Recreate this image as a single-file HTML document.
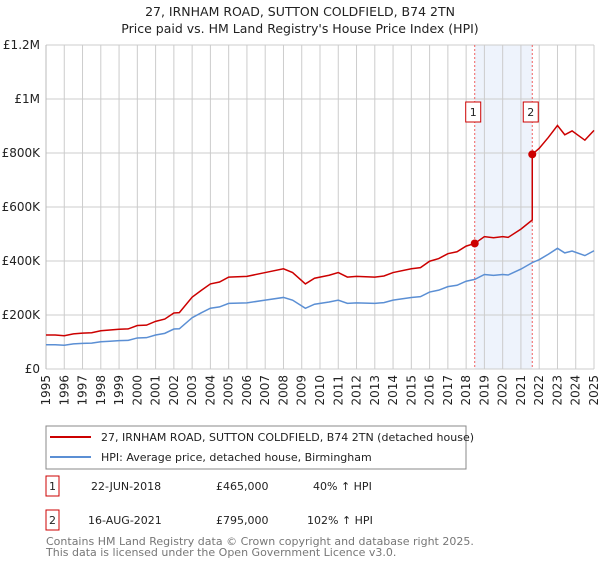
<!DOCTYPE html>
<html><head><meta charset="utf-8"><style>
body{margin:0;background:#fff;font-family:"Liberation Sans","DejaVu Sans",sans-serif;}
svg text{font-family:"DejaVu Sans","Liberation Sans",sans-serif;}
</style></head><body>
<svg id="chart" width="600" height="560" xmlns="http://www.w3.org/2000/svg">
<text x="300" y="16" text-anchor="middle" font-size="12.5" fill="#222">27, IRNHAM ROAD, SUTTON COLDFIELD, B74 2TN</text>
<text x="300" y="33" text-anchor="middle" font-size="12.5" fill="#222">Price paid vs. HM Land Registry's House Price Index (HPI)</text>
<g id="plot"></g>
<g>
<rect x="46" y="426" width="420" height="43" fill="#fff" stroke="#888"/>
<line x1="50" y1="437" x2="91" y2="437" stroke="#cc0000" stroke-width="2"/>
<text x="101" y="441" font-size="11" fill="#222">27, IRNHAM ROAD, SUTTON COLDFIELD, B74 2TN (detached house)</text>
<line x1="50" y1="457" x2="91" y2="457" stroke="#5b8fd4" stroke-width="2"/>
<text x="101" y="461" font-size="11" fill="#222">HPI: Average price, detached house, Birmingham</text>
</g>
<g font-size="11" fill="#222">
<rect x="46" y="476" width="13" height="20" fill="#fff" stroke="#cc0000"/>
<text x="52.5" y="490" text-anchor="middle">1</text>
<text x="91" y="490">22-JUN-2018</text>
<text x="216" y="490">£465,000</text>
<text x="313" y="490">40% ↑ HPI</text>
<rect x="46" y="510" width="13" height="20" fill="#fff" stroke="#cc0000"/>
<text x="52.5" y="524" text-anchor="middle">2</text>
<text x="88" y="524">16-AUG-2021</text>
<text x="216" y="524">£795,000</text>
<text x="307" y="524">102% ↑ HPI</text>
</g>
<text x="46" y="545" font-size="11" fill="#777">Contains HM Land Registry data © Crown copyright and database right 2025.</text>
<text x="46" y="556" font-size="11" fill="#777">This data is licensed under the Open Government Licence v3.0.</text>
</svg>
<script>
const hpiYears=[1995,1995.5,1996,1996.5,1997,1997.5,1998,1998.5,1999,1999.5,2000,2000.5,2001,2001.5,2002,2002.3,2003,2003.5,2004,2004.5,2005,2006,2007,2008,2008.5,2009.2,2009.7,2010.5,2011,2011.5,2012,2013,2013.5,2014,2015,2015.5,2016,2016.5,2017,2017.5,2018,2018.47,2019,2019.5,2020,2020.3,2021,2021.62,2022,2022.5,2023,2023.4,2023.8,2024.5,2025];
const hpiValues=[90,90,88,93,95,96,101,103,105,106,115,116,126,132,148,149,190,208,225,230,243,245,255,265,255,225,240,248,255,243,245,243,246,255,265,268,285,292,305,310,325,332,350,347,350,348,370,394,405,425,447,430,437,420,438];
const sale1Year=2018.47, sale1Price=465;
const sale2Year=2021.62, sale2Price=795;
const yTicks=[0,200,400,600,800,1000,1200];
const yTickLabels=["£0","£200K","£400K","£600K","£800K","£1M","£1.2M"];
const xTicks=[1995,1996,1997,1998,1999,2000,2001,2002,2003,2004,2005,2006,2007,2008,2009,2010,2011,2012,2013,2014,2015,2016,2017,2018,2019,2020,2021,2022,2023,2024,2025];

const X0=46,X1=594,Y0=369,Y1=45;
const x=v=>X0+(v-1995)/30*(X1-X0);
const y=v=>Y0-v/1200*(Y0-Y1);
const NS="http://www.w3.org/2000/svg";
const g=document.getElementById('plot');
function mk(t,a){const e=document.createElementNS(NS,t);for(const k in a)e.setAttribute(k,a[k]);g.appendChild(e);return e;}
function hpiAt(t){for(let i=1;i<hpiYears.length;i++){if(t<=hpiYears[i]){const f=(t-hpiYears[i-1])/(hpiYears[i]-hpiYears[i-1]);return hpiValues[i-1]+f*(hpiValues[i]-hpiValues[i-1]);}}return hpiValues[hpiValues.length-1];}

let shade=mk('rect',{x:x(sale1Year),y:Y1,width:x(sale2Year)-x(sale1Year),height:Y0-Y1,fill:'#eef3fc'});


xTicks.forEach(t=>{const l=mk('line',{x1:x(t),y1:Y1,x2:x(t),y2:Y0,stroke:'#ccc','stroke-width':1});


const tx=mk('text',{x:0,y:0,'font-size':12,fill:'#222','text-anchor':'end',transform:`translate(${x(t)+4},${Y0+6}) rotate(-90)`});tx.textContent=t;

});
yTicks.forEach((v,i)=>{const l=mk('line',{x1:X0,y1:y(v),x2:X1,y2:y(v),stroke:'#ccc','stroke-width':1});


const tx=mk('text',{x:X0-6,y:y(v)+4,'font-size':12,fill:'#222','text-anchor':'end'});tx.textContent=yTickLabels[i];

});
mk('line',{x1:X0,y1:Y1,x2:X0,y2:Y0,stroke:'#bbb'});
[sale1Year,sale2Year].forEach((s,i)=>{const l=mk('line',{x1:x(s),y1:Y1,x2:x(s),y2:Y0,stroke:'#f06060','stroke-dasharray':'2,2','stroke-width':1});


const r=mk('rect',{x:x(s)-9,y:y(1000)+3,width:15,height:20,fill:'#fff',stroke:'#cc0000'});


const tx=mk('text',{x:x(s)-1.5,y:y(1000)+17,'font-size':11,fill:'#222','text-anchor':'middle'});tx.textContent=i+1;

});
let hp=hpiYears.map((t,i)=>`${x(t)},${y(hpiValues[i])}`).join(' ');
const hl=mk('polyline',{points:hp,fill:'none',stroke:'#5b8fd4','stroke-width':1.5});


const r1=sale1Price/hpiAt(sale1Year), r2=sale2Price/hpiAt(sale2Year);
let pts=[];
hpiYears.forEach((t,i)=>{if(t<sale2Year)pts.push([t,hpiValues[i]*r1]);});
pts.push([sale2Year,hpiAt(sale2Year)*r1]);pts.push([sale2Year,sale2Price]);
hpiYears.forEach((t,i)=>{if(t>sale2Year)pts.push([t,hpiValues[i]*r2]);});
const pl=mk('polyline',{points:pts.map(p=>`${x(p[0])},${y(p[1])}`).join(' '),fill:'none',stroke:'#cc0000','stroke-width':1.5});


[[sale1Year,sale1Price],[sale2Year,sale2Price]].forEach(p=>{const c=mk('circle',{cx:x(p[0]),cy:y(p[1]),r:4,fill:'#cc0000'});

});
</script>
</body></html>
